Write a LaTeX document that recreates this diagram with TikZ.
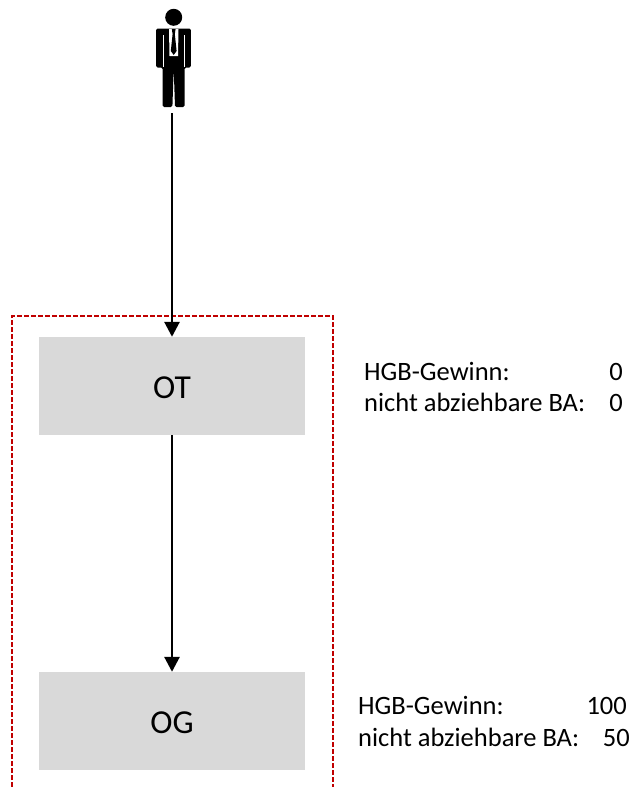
\documentclass[tikz,border=0pt]{standalone}
\usepackage{fontspec}
\setmainfont{Carlito}
\usetikzlibrary{arrows.meta}
\definecolor{framered}{HTML}{C00000}
\definecolor{boxgray}{HTML}{D9D9D9}
\begin{document}
\begin{tikzpicture}[
        x=1pt, y=-1pt,
        box/.style={fill=boxgray, minimum width=266pt, minimum height=98pt, inner sep=0pt, text height=24pt, text depth=0pt, font=\fontsize{33.5}{33.5}\selectfont},
        info/.style={anchor=base west, inner sep=0pt, font=\fontsize{26.5}{26.5}\selectfont},
        val/.style={anchor=base east, inner sep=0pt, font=\fontsize{26.5}{26.5}\selectfont},
        arrow/.style={draw, -{Triangle[width=15pt,length=15pt]}, line width=2.8pt},
        edge from parent/.style={arrow},
        level distance=335pt,
    ]
    \useasboundingbox (0,0) rectangle (634,787);

    % frame, open at the bottom
    \coordinate (frameBL) at (12,787);
    \coordinate (frameTL) at (12,316);
    \coordinate (frameTR) at (333,316);
    \coordinate (frameBR) at (333,787);
    \draw[framered, line width=1.5pt, dash pattern=on 5pt off 2pt] (frameBL) -- (frameTL) -- (frameTR) -- (frameBR);

    % man
    \fill (173.7,17.3) circle (8.5);
    \fill[rounded corners=1.5pt] (156,28.5) -- (190.8,28.5) -- (190.8,67.5) -- (184.5,67.5) -- (184.5,107) -- (175,107) -- (173.7,68) -- (172.4,107) -- (162.7,107) -- (162.7,67.5) -- (156,67.5) -- cycle;
    \fill[white] (169,29) -- (178.5,29) -- (178,56) -- (169.5,56) -- cycle;
    \fill (171.8,29) -- (175.6,29) -- (174.8,34) -- (176.6,51) -- (173.7,55) -- (170.8,51) -- (172.6,34) -- cycle;
    \draw[white, line width=.8pt] (163,35) -- (163,67) (184.3,35) -- (184.3,67);
    \coordinate (manfoot) at (172,113);

    \node[box] (OT) at (172,386) {OT}
    child{node[box] (OG) {OG}};
    \draw[arrow] (manfoot) -- (OT.north);

    \node[info] (otgewinn) at (364,380) {HGB-Gewinn:};
    \node[val] (otgewinnval) at (623,380) {0};
    \node[info] (otba) at (364,411.5) {nicht abziehbare BA:};
    \node[val] (otbaval) at (623,411.5) {0};

    \node[info] (oggewinn) at (358,714) {HGB-Gewinn:};
    \node[val] (oggewinnval) at (627,714) {100};
    \node[info] (ogba) at (358,746) {nicht abziehbare BA:};
    \node[val] (ogbaval) at (630,746) {50};

    \end{tikzpicture}
\end{document}
